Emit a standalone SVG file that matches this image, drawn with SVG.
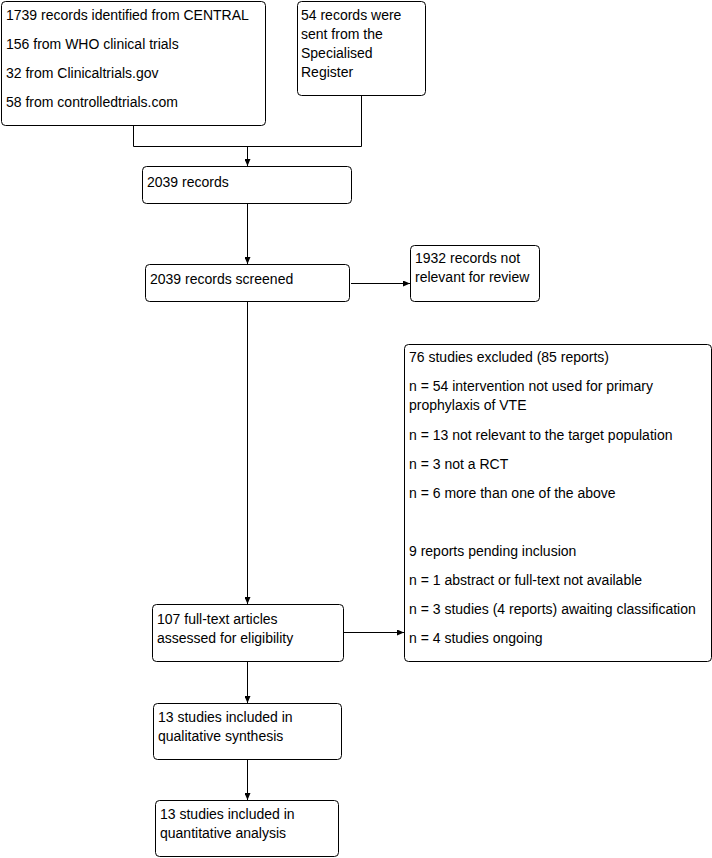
<svg xmlns="http://www.w3.org/2000/svg" width="712" height="858" viewBox="0 0 712 858">
<style>
.box{fill:#fff;stroke:#000;stroke-width:1}
text{font-family:"Liberation Sans",Arial,sans-serif;font-size:14px;fill:#000}
.c{fill:none;stroke:#000;stroke-width:1}
</style>
<defs>
<marker id="ah" markerWidth="7" markerHeight="6" refX="7" refY="3" orient="auto" markerUnits="userSpaceOnUse">
<path d="M0,0 L7,3 L0,6 Z" fill="#000"/>
</marker>
</defs>
<rect width="712" height="858" fill="#fff"/>
<g id="connectors">
<path class="c" d="M133.5,125 V146.5 H361.5 V95"/>
<path class="c" d="M247.5,146.5 V166" marker-end="url(#ah)"/>
<path class="c" d="M247.5,203 V264" marker-end="url(#ah)"/>
<path class="c" d="M351,283.5 H410" marker-end="url(#ah)"/>
<path class="c" d="M247.5,301 V604" marker-end="url(#ah)"/>
<path class="c" d="M343,632.5 H404" marker-end="url(#ah)"/>
<path class="c" d="M247.5,661 V703" marker-end="url(#ah)"/>
<path class="c" d="M247.5,759 V800" marker-end="url(#ah)"/>
</g>
<g id="n1"><rect class="box" x="1.5" y="1.5" width="264" height="124" rx="4"/>
<text x="6" y="20">1739 records identified from CENTRAL</text>
<text x="6" y="49">156 from WHO clinical trials</text>
<text x="6" y="78">32 from Clinicaltrials.gov</text>
<text x="6" y="107">58 from controlledtrials.com</text></g>
<g id="n2"><rect class="box" x="297.5" y="1.5" width="128" height="94" rx="4"/>
<text x="301" y="20">54 records were</text>
<text x="301" y="39">sent from the</text>
<text x="301" y="58">Specialised</text>
<text x="301" y="77">Register</text></g>
<g id="n3"><rect class="box" x="142.5" y="166.5" width="209" height="37" rx="4"/>
<text x="147" y="187">2039 records</text></g>
<g id="n4"><rect class="box" x="145.5" y="264.5" width="204" height="37" rx="4"/>
<text x="150" y="284">2039 records screened</text></g>
<g id="n5"><rect class="box" x="410.5" y="245.5" width="129" height="56" rx="4"/>
<text x="415" y="263">1932 records not</text>
<text x="415" y="282">relevant for review</text></g>
<g id="n6"><rect class="box" x="152.5" y="604.5" width="191" height="57" rx="4"/>
<text x="157" y="624">107 full-text articles</text>
<text x="157" y="643">assessed for eligibility</text></g>
<g id="n7"><rect class="box" x="404.5" y="344.5" width="307" height="317" rx="4"/>
<text x="409" y="362">76 studies excluded (85 reports)</text>
<text x="409" y="391">n = 54 intervention not used for primary</text>
<text x="409" y="410">prophylaxis of VTE</text>
<text x="409" y="440">n = 13 not relevant to the target population</text>
<text x="409" y="469">n = 3 not a RCT</text>
<text x="409" y="498">n = 6 more than one of the above</text>
<text x="409" y="556">9 reports pending inclusion</text>
<text x="409" y="585">n = 1 abstract or full-text not available</text>
<text x="409" y="614">n = 3 studies (4 reports) awaiting classification</text>
<text x="409" y="643">n = 4 studies ongoing</text></g>
<g id="n8"><rect class="box" x="153.5" y="703.5" width="188" height="56" rx="4"/>
<text x="158" y="722">13 studies included in</text>
<text x="158" y="741">qualitative synthesis</text></g>
<g id="n9"><rect class="box" x="155.5" y="800.5" width="183" height="56" rx="4"/>
<text x="160" y="819">13 studies included in</text>
<text x="160" y="838">quantitative analysis</text></g>
</svg>
